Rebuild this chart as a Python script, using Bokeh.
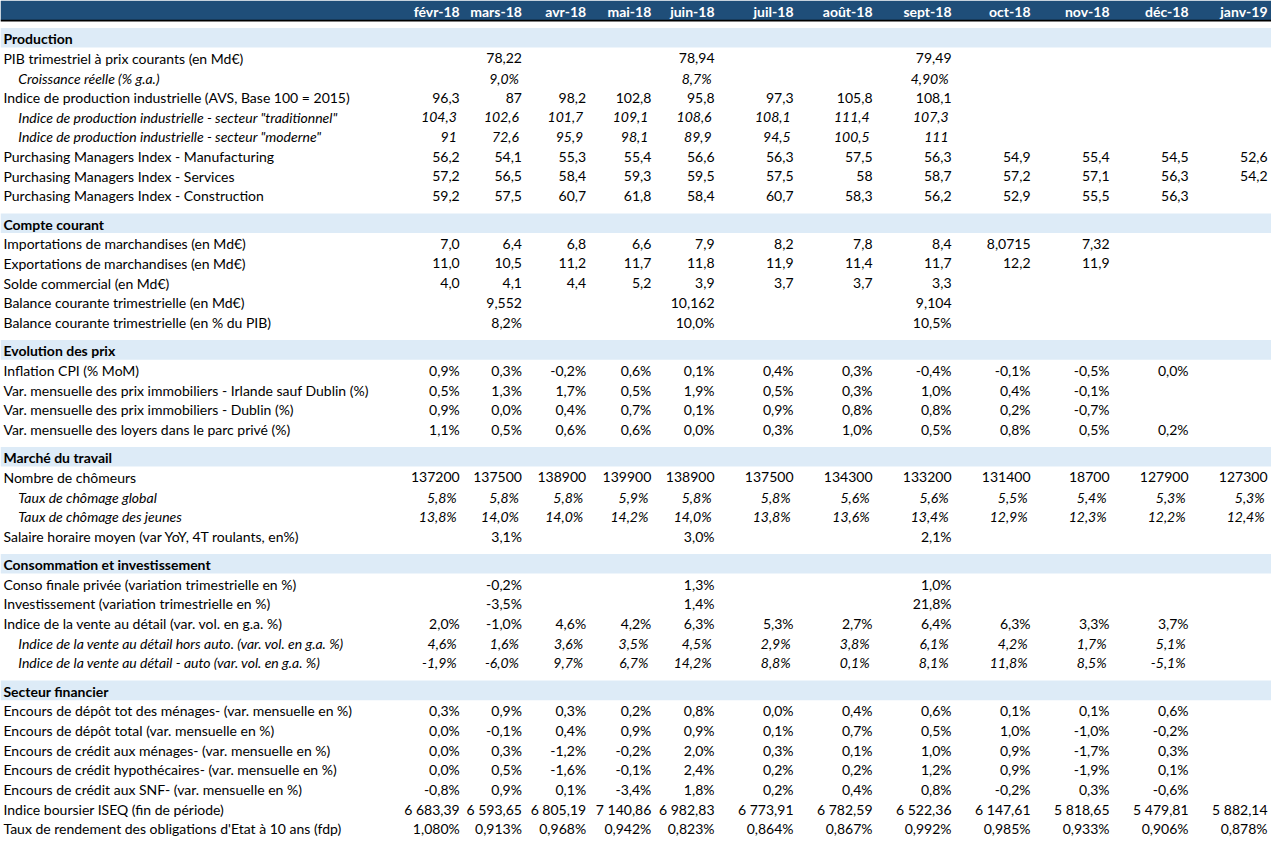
from bokeh.plotting import figure
from bokeh.models import ColumnDataSource, Range1d
from bokeh.core.properties import value
from bokeh.embed import file_html
from bokeh.resources import INLINE

# ---------------- DATA ----------------
months = ["févr-18", "mars-18", "avr-18", "mai-18", "juin-18", "juil-18",
          "août-18", "sept-18", "oct-18", "nov-18", "déc-18", "janv-19"]

sections = ["Production", "Compte courant", "Evolution des prix", "Marché du travail",
            "Consommation et investissement", "Secteur financier"]

# Production
prod_labels = ["PIB trimestriel  à prix courants (en Md€)",
               "Croissance réelle (% g.a.)",
               "Indice de production industrielle (AVS, Base 100 = 2015)",
               'Indice de production industrielle - secteur "traditionnel"',
               'Indice de production industrielle - secteur "moderne"',
               "Purchasing Managers Index - Manufacturing",
               "Purchasing Managers Index - Services",
               "Purchasing Managers Index - Construction"]
prod_italic = [False, True, False, True, True, False, False, False]
pib = ["", "78,22", "", "", "78,94", "", "", "79,49", "", "", "", ""]
croissance = ["", "9,0%", "", "", "8,7%", "", "", "4,90%", "", "", "", ""]
ipi = ["96,3", "87", "98,2", "102,8", "95,8", "97,3", "105,8", "108,1", "", "", "", ""]
ipi_trad = ["104,3", "102,6", "101,7", "109,1", "108,6", "108,1", "111,4", "107,3", "", "", "", ""]
ipi_mod = ["91", "72,6", "95,9", "98,1", "89,9", "94,5", "100,5", "111", "", "", "", ""]
pmi_m = ["56,2", "54,1", "55,3", "55,4", "56,6", "56,3", "57,5", "56,3", "54,9", "55,4", "54,5", "52,6"]
pmi_s = ["57,2", "56,5", "58,4", "59,3", "59,5", "57,5", "58", "58,7", "57,2", "57,1", "56,3", "54,2"]
pmi_c = ["59,2", "57,5", "60,7", "61,8", "58,4", "60,7", "58,3", "56,2", "52,9", "55,5", "56,3", ""]

# Compte courant
cc_labels = ["Importations de marchandises (en Md€)",
             "Exportations de marchandises (en Md€)",
             "Solde commercial (en Md€)",
             "Balance courante trimestrielle (en Md€)",
             "Balance courante trimestrielle (en % du PIB)"]
cc_italic = [False] * 5
imports = ["7,0", "6,4", "6,8", "6,6", "7,9", "8,2", "7,8", "8,4", "8,0715", "7,32", "", ""]
exports = ["11,0", "10,5", "11,2", "11,7", "11,8", "11,9", "11,4", "11,7", "12,2", "11,9", "", ""]
solde = ["4,0", "4,1", "4,4", "5,2", "3,9", "3,7", "3,7", "3,3", "", "", "", ""]
bc_md = ["", "9,552", "", "", "10,162", "", "", "9,104", "", "", "", ""]
bc_pct = ["", "8,2%", "", "", "10,0%", "", "", "10,5%", "", "", "", ""]

# Evolution des prix
px_labels = ["Inflation CPI (% MoM)",
             "Var. mensuelle des prix immobiliers - Irlande sauf Dublin (%)",
             "Var. mensuelle des prix immobiliers - Dublin  (%)",
             "Var. mensuelle des loyers dans le parc privé (%)"]
px_italic = [False] * 4
cpi = ["0,9%", "0,3%", "-0,2%", "0,6%", "0,1%", "0,4%", "0,3%", "-0,4%", "-0,1%", "-0,5%", "0,0%", ""]
immo_hors = ["0,5%", "1,3%", "1,7%", "0,5%", "1,9%", "0,5%", "0,3%", "1,0%", "0,4%", "-0,1%", "", ""]
immo_dub = ["0,9%", "0,0%", "0,4%", "0,7%", "0,1%", "0,9%", "0,8%", "0,8%", "0,2%", "-0,7%", "", ""]
loyers = ["1,1%", "0,5%", "0,6%", "0,6%", "0,0%", "0,3%", "1,0%", "0,5%", "0,8%", "0,5%", "0,2%", ""]

# Marché du travail
tr_labels = ["Nombre de chômeurs",
             "Taux de chômage global",
             "Taux de chômage des jeunes",
             "Salaire horaire moyen (var YoY, 4T roulants, en%)"]
tr_italic = [False, True, True, False]
chomeurs = ["137200", "137500", "138900", "139900", "138900", "137500", "134300", "133200",
            "131400", "18700", "127900", "127300"]
taux_glob = ["5,8%", "5,8%", "5,8%", "5,9%", "5,8%", "5,8%", "5,6%", "5,6%", "5,5%", "5,4%", "5,3%", "5,3%"]
taux_jeunes = ["13,8%", "14,0%", "14,0%", "14,2%", "14,0%", "13,8%", "13,6%", "13,4%", "12,9%", "12,3%",
               "12,2%", "12,4%"]
salaire = ["", "3,1%", "", "", "3,0%", "", "", "2,1%", "", "", "", ""]

# Consommation et investissement
co_labels = ["Conso finale privée (variation trimestrielle en %)",
             "Investissement (variation trimestrielle en %)",
             "Indice de la vente au détail (var. vol. en g.a. %)",
             "Indice de la vente au détail hors auto. (var. vol. en g.a. %)",
             "Indice de la vente au détail - auto (var. vol. en g.a. %)"]
co_italic = [False, False, False, True, True]
conso = ["", "-0,2%", "", "", "1,3%", "", "", "1,0%", "", "", "", ""]
invest = ["", "-3,5%", "", "", "1,4%", "", "", "21,8%", "", "", "", ""]
vente = ["2,0%", "-1,0%", "4,6%", "4,2%", "6,3%", "5,3%", "2,7%", "6,4%", "6,3%", "3,3%", "3,7%", ""]
vente_hors = ["4,6%", "1,6%", "3,6%", "3,5%", "4,5%", "2,9%", "3,8%", "6,1%", "4,2%", "1,7%", "5,1%", ""]
vente_auto = ["-1,9%", "-6,0%", "9,7%", "6,7%", "14,2%", "8,8%", "0,1%", "8,1%", "11,8%", "8,5%", "-5,1%", ""]

# Secteur financier
fi_labels = ["Encours de dépôt tot des ménages- (var. mensuelle en %)",
             "Encours de dépôt total (var. mensuelle en %)",
             "Encours de crédit aux ménages- (var. mensuelle en %)",
             "Encours de crédit hypothécaires- (var. mensuelle en %)",
             "Encours de crédit aux SNF- (var. mensuelle en %)",
             "Indice boursier ISEQ (fin de période)",
             "Taux de rendement des obligations d'Etat à 10 ans (fdp)"]
fi_italic = [False] * 7
dep_men = ["0,3%", "0,9%", "0,3%", "0,2%", "0,8%", "0,0%", "0,4%", "0,6%", "0,1%", "0,1%", "0,6%", ""]
dep_tot = ["0,0%", "-0,1%", "0,4%", "0,9%", "0,9%", "0,1%", "0,7%", "0,5%", "1,0%", "-1,0%", "-0,2%", ""]
cred_men = ["0,0%", "0,3%", "-1,2%", "-0,2%", "2,0%", "0,3%", "0,1%", "1,0%", "0,9%", "-1,7%", "0,3%", ""]
cred_hyp = ["0,0%", "0,5%", "-1,6%", "-0,1%", "2,4%", "0,2%", "0,2%", "1,2%", "0,9%", "-1,9%", "0,1%", ""]
cred_snf = ["-0,8%", "0,9%", "0,1%", "-3,4%", "1,8%", "0,2%", "0,4%", "0,8%", "-0,2%", "0,3%", "-0,6%", ""]
iseq = ["6\u00a0683,39", "6\u00a0593,65", "6\u00a0805,19", "7\u00a0140,86", "6\u00a0982,83", "6\u00a0773,91",
        "6\u00a0782,59", "6\u00a0522,36", "6\u00a0147,61", "5\u00a0818,65", "5\u00a0479,81", "5\u00a0882,14"]
oat = ["1,080%", "0,913%", "0,968%", "0,942%", "0,823%", "0,864%", "0,867%", "0,992%", "0,985%",
       "0,933%", "0,906%", "0,878%"]

blocks = [
    (prod_labels, prod_italic, [pib, croissance, ipi, ipi_trad, ipi_mod, pmi_m, pmi_s, pmi_c]),
    (cc_labels, cc_italic, [imports, exports, solde, bc_md, bc_pct]),
    (px_labels, px_italic, [cpi, immo_hors, immo_dub, loyers]),
    (tr_labels, tr_italic, [chomeurs, taux_glob, taux_jeunes, salaire]),
    (co_labels, co_italic, [conso, invest, vente, vente_hors, vente_auto]),
    (fi_labels, fi_italic, [dep_men, dep_tot, cred_men, cred_hyp, cred_snf, iseq, oat]),
]

# ---------------- LAYOUT ----------------
W, H = 1287, 855
col_right = [465, 528, 593, 659, 723, 803, 883, 963, 1043, 1123, 1203, 1283]
ROW = 20
HEADER_H = 20
FONT = "Lato"
FS = "14px"
DARK = "#1F4E79"
LIGHT = "#DDEBF7"

p = figure(width=1271, height=839, output_backend="svg", toolbar_location=None,
           x_range=Range1d(0, W), y_range=Range1d(H, 0), min_border=0)
p.axis.visible = False
p.grid.visible = False
p.outline_line_color = None
p.background_fill_color = "white"
p.border_fill_color = "white"

# header
p.quad(left=[0], right=[W], top=[0], bottom=[HEADER_H], fill_color=DARK, line_color=None)
p.segment(x0=[0], x1=[W], y0=[HEADER_H + 0.5], y1=[HEADER_H + 0.5], line_color="black", line_width=1.6)
p.text(x=col_right, y=[HEADER_H / 2 + 1] * len(months), text=months, text_align="right",
       text_baseline="middle", text_color="white", text_font=value(FONT),
       text_font_size=value(FS), text_font_style="bold")

band_top, band_bot, sec_y = [], [], []
lab_x, lab_y, lab_t, lab_it = [], [], [], []
val_x, val_y, val_t, val_it = [], [], [], []

y = HEADER_H + 8
for sec, (labels, italics, rows) in zip(sections, blocks):
    band_top.append(y)
    band_bot.append(y + ROW)
    sec_y.append(y + ROW / 2 + 1)
    y += ROW
    for lab, it, vals in zip(labels, italics, rows):
        cy = y + ROW / 2 + 1
        lab_x.append(18 if it else 3)
        lab_y.append(cy)
        lab_t.append(lab)
        lab_it.append(it)
        for cx, v in zip(col_right, vals):
            if v:
                val_x.append(cx - (3 if it else 0))
                val_y.append(cy)
                val_t.append(v)
                val_it.append(it)
        y += ROW
    y += 9

p.quad(left=[0] * len(band_top), right=[W] * len(band_top), top=band_top, bottom=band_bot,
       fill_color=LIGHT, line_color=None)
p.text(x=[3] * len(sections), y=sec_y, text=sections, text_align="left", text_baseline="middle",
       text_color="black", text_font=value(FONT), text_font_size=value(FS), text_font_style="bold")

def sub(xs, ys, ts, flags, want):
    return ColumnDataSource(dict(x=[a for a, f in zip(xs, flags) if f == want],
                                 y=[a for a, f in zip(ys, flags) if f == want],
                                 t=[a for a, f in zip(ts, flags) if f == want]))

for want, style in [(False, "normal"), (True, "italic")]:
    p.text(x="x", y="y", text="t", source=sub(lab_x, lab_y, lab_t, lab_it, want),
           text_align="left", text_baseline="middle", text_color="black",
           text_font=value(FONT), text_font_size=value(FS), text_font_style=style)
    p.text(x="x", y="y", text="t", source=sub(val_x, val_y, val_t, val_it, want),
           text_align="right", text_baseline="middle", text_color="black",
           text_font=value(FONT), text_font_size=value(FS), text_font_style=style)

open("out.html", "w").write(file_html(p, INLINE))
